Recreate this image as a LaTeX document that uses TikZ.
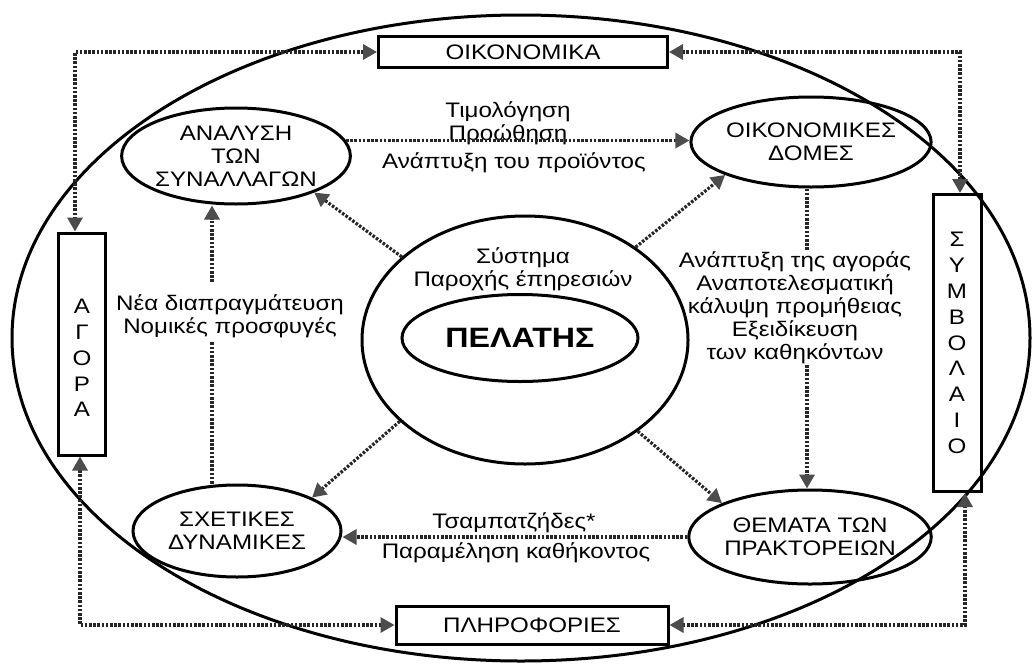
\documentclass[tikz,border=0pt]{standalone}
\usepackage{fontspec}
\setmainfont{Liberation Sans}[FakeStretch=1.15]
\usetikzlibrary{arrows.meta,shapes.geometric}
\begin{document}
\begin{tikzpicture}[x=1pt,y=-1pt,
  myfont/.style={font=\fontsize{21}{23}\selectfont},
  lbl/.style={myfont, align=center, inner sep=0pt, text=black},
  boxn/.style={draw=black, line width=3pt, inner sep=0pt, myfont, text=black},
  vlet/.style={font=\fontsize{21}{25.8}\selectfont, align=center, inner sep=0pt, text=black},
  ell/.style={ellipse, draw=black, line width=3pt, inner sep=0pt, align=center, myfont, text=black},
  dl/.style={line width=3.2pt, dash pattern=on 2.6pt off 1.6pt, draw=black!85},
  tipE/.style={-{Triangle[length=14pt,width=15pt,color=black!70]}},
  tipB/.style={{Triangle[length=14pt,width=15pt,color=black!70]}-{Triangle[length=14pt,width=15pt,color=black!70]}}
]
\useasboundingbox[fill=white] (0,0) rectangle (1033,664);

% outer ellipse
\node[ellipse, draw=black, line width=3pt, minimum width=1018pt, minimum height=646pt, inner sep=0pt] (outer) at (521,338) {};

% boxes
\node[boxn, minimum width=289pt, minimum height=31pt] (oik) at (523,52) {ΟΙΚΟΝΟΜΙΚΑ};
\node[boxn, minimum width=272pt, minimum height=38pt] (pliro) at (532,625) {ΠΛΗΡΟΦΟΡΙΕΣ};
\node[boxn, minimum width=47pt, minimum height=222pt] (agora) at (82,344) {};
\node[vlet] (agoraT) at (82,358) {Α\\Γ\\Ο\\Ρ\\Α};
\node[boxn, vlet, draw=black, minimum width=48pt, minimum height=297pt] (symv) at (957,343) {Σ\\Υ\\Μ\\Β\\Ο\\Λ\\Α\\Ι\\Ο};

% ellipses
\node[ell, minimum width=198pt, minimum height=96pt] (anal) at (236,156) {ΑΝΑΛΥΣΗ\\ΤΩΝ\\ΣΥΝΑΛΛΑΓΩΝ};
\node[ell, minimum width=210pt, minimum height=90pt] (oikd) at (811,142) {ΟΙΚΟΝΟΜΙΚΕΣ\\ΔΟΜΕΣ};
\node[ell, minimum width=208pt, minimum height=92pt] (sxet) at (237,531) {ΣΧΕΤΙΚΕΣ\\ΔΥΝΑΜΙΚΕΣ};
\node[ell, minimum width=220pt, minimum height=94pt] (them) at (810,537) {ΘΕΜΑΤΑ ΤΩΝ\\ΠΡΑΚΤΟΡΕΙΩΝ};

% centre
\node[ell, minimum width=326pt, minimum height=248pt] (sys) at (525,340) {};
\node[lbl] (sysT) at (523,269) {Σύστημα\\Παροχής έπηρεσιών};
\node[ell, minimum width=236pt, minimum height=87pt, font=\fontsize{28}{30}\selectfont\bfseries] (pel) at (520,338) {ΠΕΛΑΤΗΣ};

% labels
\node[lbl] (lblT) at (508,123.5) {Τιμολόγηση\\Προώθηση};
\node[lbl] (lblT2) at (514,163) {Ανάπτυξη του προϊόντος};
\node[lbl] (lblL) at (230,316.5) {Νέα διαπραγμάτευση\\Νομικές προσφυγές};
\node[lbl] (lblR) at (795,308) {Ανάπτυξη της αγοράς\\Αναποτελεσματική\\κάλυψη προμήθειας\\Εξειδίκευση\\των καθηκόντων};
\node[lbl] (lblB) at (514,523) {Τσαμπατζήδες*};
\node[lbl] (lblB2) at (516,553) {Παραμέληση καθήκοντος};

% outer connectors
\draw[dl,tipB] (oik.west) -| ([xshift=-7pt]agora.north);
\draw[dl,tipB] (oik.east) -| ([xshift=3pt]symv.north);
\draw[dl,tipB] (pliro.west) -| ([xshift=-2pt]agora.south);
\draw[dl,tipB] (pliro.east) -| ([xshift=8pt]symv.south);

% inner connectors
\draw[dl,tipE] (anal.8) -- (anal.8 -| oikd.west);
\draw[dl,tipE] (them.west) -- (them.west -| sxet.east);

\coordinate (l1) at (212,282);
\coordinate (l2) at (212,342);
\draw[dl,tipE] (l1) -- (anal.south -| l1);
\draw[dl] (sxet.north -| l2) -- (l2);

\coordinate (r1) at (807,250);
\coordinate (r2) at (807,365);
\draw[dl] (oikd.south -| r1) -- (r1);
\draw[dl,tipE] (r2) -- (them.north -| r2);

\draw[dl,tipE] (sys.146) -- (anal.-25);
\draw[dl,tipE] (sys.40) -- (oikd.201);
\draw[dl,tipE] (sys.213) -- (sxet.24);
\draw[dl,tipE] (sys.-39) -- (them.159);
\end{tikzpicture}
\end{document}
